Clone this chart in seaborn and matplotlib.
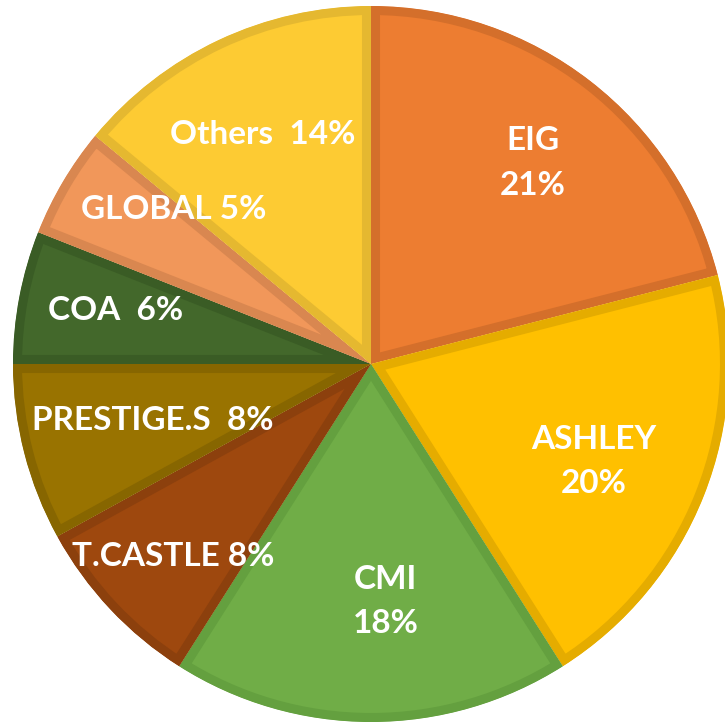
import matplotlib.pyplot as plt
import numpy as np
import seaborn as sns

# data (clockwise from 12 o'clock)
companies = ["EIG", "ASHLEY", "CMI", "T.CASTLE", "PRESTIGE.S", "COA", "GLOBAL", "Others"]
shares = [21, 20, 18, 8, 8, 6, 5, 14]
label_text = ["EIG\n21%", "ASHLEY\n20%", "CMI\n18%", "T.CASTLE 8%",
              "PRESTIGE.S  8%", "COA  6%", "GLOBAL 5%", "Others  14%"]

# styling
fills = ["#ED7D31", "#FFC000", "#70AD47", "#9E480E", "#997300", "#43682B", "#F1975A", "#FDCB33"]
edges = ["#D46F2B", "#E5AC00", "#64A03F", "#8C400D", "#876600", "#3A5C25", "#D98750", "#E5B830"]
label_r = [0.72, 0.68, 0.665, 0.77, 0.63, 0.73, 0.70, 0.71]
label_shift = [-1, -2, 3.5, 1, 0, -1, -7.6, 0]   # degrees

sns.set_theme(style="white")
plt.rcParams["font.family"] = ["Lato", "DejaVu Sans"]

fig = plt.figure(figsize=(7.25, 7.22), dpi=100)
ax = fig.add_axes([0, 0, 1, 1])

wedges, _ = ax.pie(shares, colors=fills, startangle=90, counterclock=False,
                   radius=1.0, wedgeprops=dict(linewidth=0))

for w, ec in zip(wedges, edges):
    w.set_edgecolor(ec)
    w.set_linewidth(13)
    w.set_joinstyle("miter")
    w.set_clip_on(True)
    w.set_clip_path(w)   # keep the border inside each slice

for w, txt, r, d in zip(wedges, label_text, label_r, label_shift):
    ang = np.deg2rad((w.theta1 + w.theta2) / 2 + d)
    ax.text(r * np.cos(ang), r * np.sin(ang), txt, color="white",
            fontsize=24, fontweight="bold", ha="center", va="center",
            linespacing=1.65)

ax.set_xlim(-371 / 358, 354 / 358)
ax.set_ylim(-358 / 358, 364 / 358)
ax.set_aspect("auto")
ax.axis("off")

fig.savefig("out.png", dpi=100)
